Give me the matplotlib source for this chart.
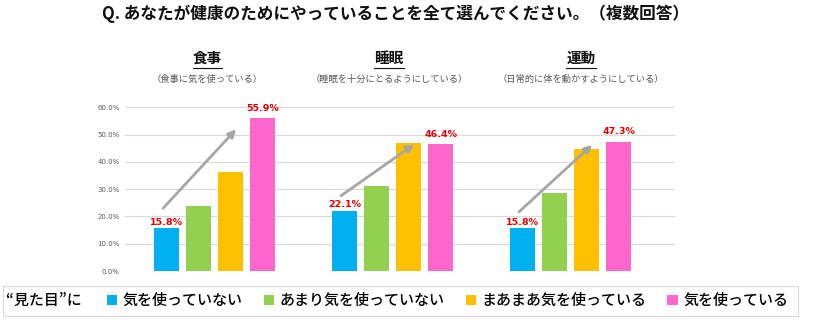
import numpy as np
import matplotlib
matplotlib.use('Agg')
import matplotlib.pyplot as plt
from matplotlib.patches import Rectangle
from matplotlib.lines import Line2D

plt.rcParams['font.family'] = ['Noto Sans CJK JP', 'DejaVu Sans']

# data
categories = ['食事', '睡眠', '運動']
subtitles = ['（食事に気を使っている）', '（睡眠を十分にとるようにしている）', '（日常的に体を動かすようにしている）']
series = ['気を使っていない', 'あまり気を使っていない', 'まあまあ気を使っている', '気を使っている']
values = {
    '気を使っていない': [15.8, 22.1, 15.8],
    'あまり気を使っていない': [24.0, 31.0, 28.5],
    'まあまあ気を使っている': [36.2, 46.8, 44.8],
    '気を使っている': [55.9, 46.4, 47.3],
}
colors = ['#00B0F0', '#92D050', '#FFC000', '#FF66CC']
labeled_series = ['気を使っていない', '気を使っている']
arrow_from = [23.0, 27.6, 21.7]
arrow_to = [51.9, 46.4, 46.2]
yticks = [0, 10, 20, 30, 40, 50, 60]

W, H = 820, 327
fig = plt.figure(figsize=(W / 100, H / 100), dpi=100)
ax = fig.add_axes([125 / W, 1 - 271 / H, 550 / W, 163.7 / H])

x = np.arange(len(categories))
pitch = 0.18
width = 0.14
bars = []
for i, (name, c) in enumerate(zip(series, colors)):
    pos = x + (i - 1.5) * pitch
    b = ax.bar(pos, values[name], width=width, color=c, zorder=2)
    bars.append(b)
    if name in labeled_series:
        off = 1 if i == 0 else 4
        for px, v in zip(pos, values[name]):
            ax.annotate(f'{v:.1f}%', (px, v), xytext=(0, off), textcoords='offset points',
                        ha='center', va='bottom', color='#E00000', fontsize=6.8,
                        fontweight='bold', family='DejaVu Sans', zorder=4)

# trend arrows
for gx, a, b in zip(x, arrow_from, arrow_to):
    ax.annotate('', xy=(gx + 0.12, b), xytext=(gx - 0.29, a),
                arrowprops=dict(arrowstyle='-|>', color='#A6A6A6', lw=2.0,
                                mutation_scale=11, shrinkA=0, shrinkB=0), zorder=3)

ax.set_xlim(-0.504, 2.586)
ax.set_ylim(0, 60)
ax.set_yticks(yticks)
ax.set_yticklabels([f'{t:.1f}%' for t in yticks], family='DejaVu Sans')
ax.tick_params(axis='y', length=0, labelsize=5, labelcolor='#595959', pad=4)
ax.set_xticks([])
ax.grid(axis='y', color='#D9D9D9', lw=0.8, zorder=0)
for s in ax.spines.values():
    s.set_visible(False)

# titles
fig.text(395.9 / W, 1 - 14 / H, 'Q. あなたが健康のためにやっていることを全て選んでください。（複数回答）',
         ha='center', va='center', fontsize=12, fontweight='bold', color='#111111')

cat_x = [207.3, 389, 581]
cat_texts = []
for cx, cat, sub in zip(cat_x, categories, subtitles):
    t = fig.text(cx / W, 1 - 57.5 / H, cat, ha='center', va='center', fontsize=10.5,
                 fontweight='bold', color='#111111')
    cat_texts.append(t)
    fig.text(cx / W, 1 - 79 / H, sub, ha='center', va='center', fontsize=6.7, color='#595959')

# legend
fig.add_artist(Rectangle((2.7 / W, 1 - 316 / H), 795 / W, 30.3 / H, transform=fig.transFigure,
                         facecolor='white', edgecolor='#D9D9D9', lw=0.8))
fig.text(6 / W, 1 - 300.7 / H, '“見た目”に', ha='left', va='center', fontsize=10.8,
         color='#000000', fontweight='medium')
leg = fig.legend(bars, series, ncol=4, loc='center left', bbox_to_anchor=(106.7 / W, 1 - 300.7 / H),
                 frameon=False, borderpad=0, fontsize=10.8, handlelength=0.71, handleheight=0.71,
                 handletextpad=0.35, columnspacing=1.4, borderaxespad=0)
for t in leg.get_texts():
    t.set_color('#000000')
    t.set_fontweight('medium')

# underline category titles
fig.canvas.draw()
r = fig.canvas.get_renderer()
for t in cat_texts:
    bb = t.get_window_extent(r)
    y = bb.y0 - 2
    fig.add_artist(Line2D([bb.x0 / W, bb.x1 / W], [y / H, y / H], transform=fig.transFigure,
                          color='#111111', lw=0.8))

fig.savefig('out.png', dpi=100)
